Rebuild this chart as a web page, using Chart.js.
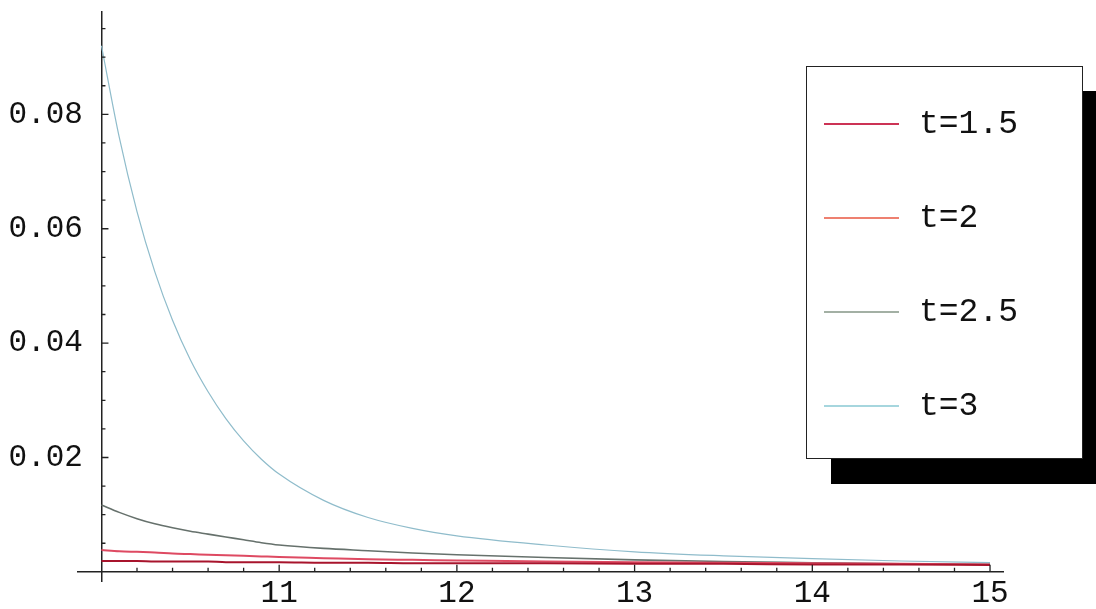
<!DOCTYPE html>
<html lang="en">
<head>
  <meta charset="UTF-8" />
  <title>Decay curves, t = 1.5 ... 3</title>
  <script src="https://cdn.jsdelivr.net/npm/chart.js@4"></script>
  <style>
    body { margin: 0; background: #fff; overflow: hidden; }
    .wrap { position: relative; width: 1096px; height: 609px; overflow: hidden; }
    .legend {
      position: absolute;
      left: 806px;
      top: 66px;
      width: 277px;
      height: 393px;
      box-sizing: border-box;
      background: #fff;
      border: 1.5px solid #222;
      box-shadow: 25px 25px 0 #000;
      font-family: 'Liberation Mono', monospace;
      font-size: 33px;
      color: #111;
    }
    .legend .row {
      position: absolute;
      left: 0;
      height: 40px;
      display: flex;
      align-items: center;
    }
    .legend .swatch {
      width: 75px;
      height: 0;
      border-top: 2px solid;
      margin-left: 17px;
      margin-right: 20px;
    }
  </style>
</head>
<body>
  <div class="wrap">
    <canvas id="chart" width="1096" height="609"></canvas>
    <div class="legend" id="legend"></div>
  </div>

  <script>
    // sample points along x
    const xs = [10, 10.1, 10.2, 10.3, 10.4, 10.5, 10.6, 10.7, 10.8, 10.9, 11,
                11.25, 11.5, 11.75, 12, 12.5, 13, 13.5, 14, 14.5, 15];

    // one curve per t value
    const t15 = [0.0019, 0.0019, 0.0019, 0.0018, 0.0018, 0.0018, 0.0018, 0.0017, 0.0017, 0.0017, 0.0017,
                 0.0016, 0.0016, 0.0015, 0.0015, 0.0015, 0.0014, 0.0014, 0.0013, 0.0013, 0.0012];
    const t20 = [0.0038, 0.0036, 0.0035, 0.0034, 0.0032, 0.0031, 0.0030, 0.0029, 0.0028, 0.0027, 0.0026,
                 0.0024, 0.0022, 0.0021, 0.0020, 0.0018, 0.0017, 0.0016, 0.0015, 0.0014, 0.0013];
    const t25 = [0.0117, 0.0104, 0.0093, 0.0084, 0.0077, 0.0071, 0.0066, 0.0061, 0.0056, 0.0051, 0.0047,
                 0.0041, 0.0037, 0.0033, 0.0030, 0.0025, 0.0021, 0.0018, 0.0016, 0.0014, 0.0013];
    const t30 = [0.092, 0.0760, 0.0630, 0.0525, 0.0440, 0.0371, 0.0315, 0.0268, 0.0229, 0.0197, 0.0171,
                 0.0125, 0.0095, 0.0076, 0.0063, 0.0047, 0.0035, 0.0028, 0.0023, 0.0019, 0.0016];

    const seriesNames = ['t=1.5', 't=2', 't=2.5', 't=3'];
    const xTicks = [11, 12, 13, 14, 15];
    const yTicks = [0.02, 0.04, 0.06, 0.08];

    const colors = ['#a8142c', '#de4a62', '#66716c', '#8fbccb'];
    const legendColors = ['#cc3355', '#ee8070', '#a3b0a4', '#a6d6de'];
    const widths = [2, 2, 1.6, 1.2];

    const toPoints = arr => xs.map((x, i) => ({ x: x, y: arr[i] }));

    // small inward ticks, Mathematica style
    const axisTicks = {
      id: 'axisTicks',
      afterDraw(chart) {
        const { ctx, scales: { x, y } } = chart;
        const x0 = x.getPixelForValue(10);
        const y0 = y.getPixelForValue(0);
        ctx.save();
        ctx.strokeStyle = '#222';
        ctx.lineWidth = 1.3;
        ctx.beginPath();
        for (let k = 1; k <= 25; k++) {
          const px = x.getPixelForValue(10 + k * 0.2);
          const len = k % 5 === 0 ? 7 : 4;
          ctx.moveTo(px, y0);
          ctx.lineTo(px, y0 - len);
        }
        for (let k = 1; k <= 19; k++) {
          const py = y.getPixelForValue(k * 0.005);
          const len = k % 4 === 0 ? 7 : 4;
          ctx.moveTo(x0, py);
          ctx.lineTo(x0 + len, py);
        }
        ctx.stroke();
        ctx.restore();
      }
    };

    const tickFont = { family: 'Liberation Mono', size: 31 };

    const chart = new Chart(document.getElementById('chart'), {
      type: 'line',
      data: {
        datasets: [t15, t20, t25, t30].map((arr, i) => ({
          label: seriesNames[i],
          data: toPoints(arr),
          borderColor: colors[i],
          borderWidth: widths[i],
          pointRadius: 0,
          cubicInterpolationMode: 'monotone',
          fill: false
        }))
      },
      options: {
        responsive: false,
        animation: false,
        layout: { padding: { left: 78, right: 93, top: 12, bottom: 28 } },
        plugins: {
          legend: { display: false },
          tooltip: { enabled: false }
        },
        scales: {
          x: {
            type: 'linear',
            position: { y: 0 },
            min: 9.868,
            max: 15.073,
            grid: { display: false, drawTicks: false },
            border: { display: true, color: '#222', width: 1.5 },
            afterBuildTicks: s => { s.ticks = xTicks.map(v => ({ value: v })); },
            afterFit: s => { s.paddingLeft = 0; s.paddingRight = 0; },
            ticks: {
              autoSkip: false,
              maxRotation: 0,
              padding: 3,
              color: '#111',
              font: tickFont,
              callback: v => String(v)
            }
          },
          y: {
            type: 'linear',
            position: { x: 10 },
            min: -0.0016,
            max: 0.0979,
            grid: { display: false, drawTicks: false },
            border: { display: true, color: '#222', width: 1.5 },
            afterBuildTicks: s => { s.ticks = yTicks.map(v => ({ value: v })); },
            afterFit: s => { s.paddingTop = 0; s.paddingBottom = 0; },
            ticks: {
              color: '#111',
              font: tickFont,
              // trailing space keeps the labels clear of the axis line
              callback: v => v.toFixed(2) + ' '
            }
          }
        }
      },
      plugins: [axisTicks]
    });

    // legend box drawn next to the canvas
    const legend = document.getElementById('legend');
    chart.data.datasets.forEach((ds, i) => {
      const row = document.createElement('div');
      row.className = 'row';
      row.style.top = (37 + i * 94) + 'px';
      const sw = document.createElement('span');
      sw.className = 'swatch';
      sw.style.borderTopColor = legendColors[i];
      const txt = document.createElement('span');
      txt.textContent = ds.label;
      row.appendChild(sw);
      row.appendChild(txt);
      legend.appendChild(row);
    });
  </script>
</body>
</html>
